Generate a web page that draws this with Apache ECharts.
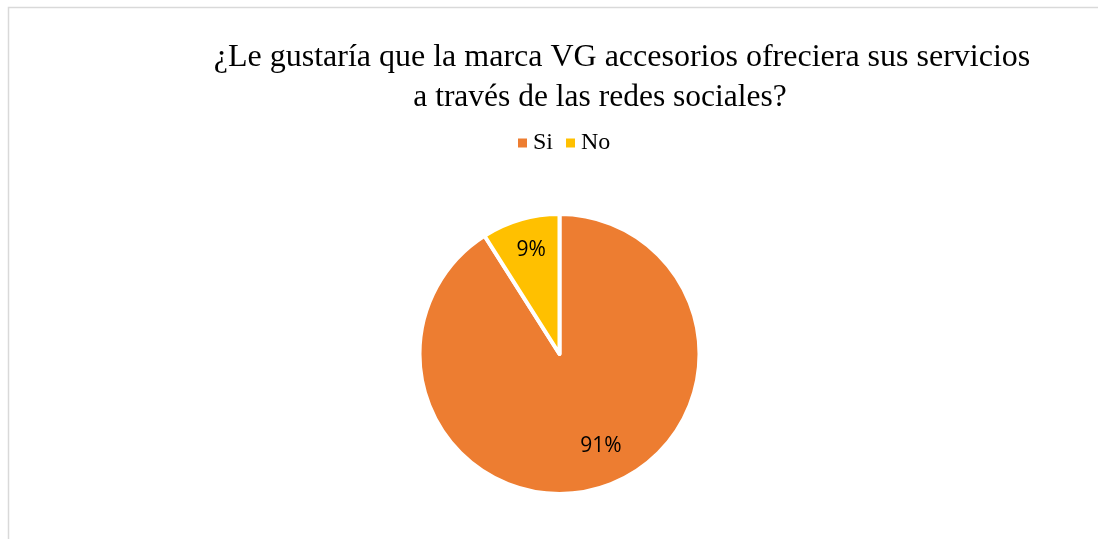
<!DOCTYPE html>
<html>
<head>
<meta charset="utf-8">
<script src="https://cdn.jsdelivr.net/npm/echarts@6/dist/echarts.min.js"></script>
<style>
  html, body { margin: 0; padding: 0; background: #fff; }
  #chart { width: 1098px; height: 539px; }
</style>
</head>
<body>
<div id="chart"></div>
<script>
// Survey answers and their shares (percent)
const categories = ['Si', 'No'];
const shares = [91, 9];
const colors = ['#ED7D31', '#FFC000'];
const titleLines = [
  '¿Le gustaría que la marca VG accesorios ofreciera sus servicios',
  'a través de las redes sociales?'
];
// nudges of each percentage label from the slice's mid-radius point
const labelNudges = [[21, 22], [-8, -34]];

const chart = echarts.init(document.getElementById('chart'));

const data = categories.map((name, i) => ({
  name,
  value: shares[i],
  itemStyle: { color: colors[i] },
  label: { offset: labelNudges[i] }
}));

const titleFont = { fontFamily: 'Liberation Serif', fontWeight: 'normal', fontSize: 31.5, color: '#000' };

chart.setOption({
  animation: false,
  backgroundColor: '#ffffff',
  graphic: [{
    type: 'rect',
    shape: { x: 8.5, y: 7.5, width: 1200, height: 700 },
    style: { fill: 'none', stroke: '#d9d9d9', lineWidth: 1.5 },
    silent: true
  }],
  title: [
    { text: titleLines[0], left: 617, top: 37, textAlign: 'center', textStyle: Object.assign({}, titleFont, { fontSize: 32 }) },
    { text: titleLines[1], left: 595, top: 77, textAlign: 'center', textStyle: titleFont }
  ],
  legend: {
    data: categories,
    top: 126,
    left: 511,
    icon: 'rect',
    itemWidth: 11,
    itemHeight: 11,
    itemGap: 11,
    textStyle: { fontFamily: 'Liberation Serif', fontSize: 24, color: '#000', padding: [0, 0, 0, 0] }
  },
  series: [{
    type: 'pie',
    center: [559.5, 354],
    radius: 140,
    startAngle: 90,
    clockwise: true,
    data,
    itemStyle: { borderColor: '#ffffff', borderWidth: 4 },
    label: {
      show: true,
      position: 'inside',
      formatter: p => p.value + '%',
      fontFamily: 'Open Sans',
      fontSize: 21,
      color: '#000'
    },
    labelLine: { show: false },
    emphasis: { disabled: true }
  }]
});
</script>
</body>
</html>
